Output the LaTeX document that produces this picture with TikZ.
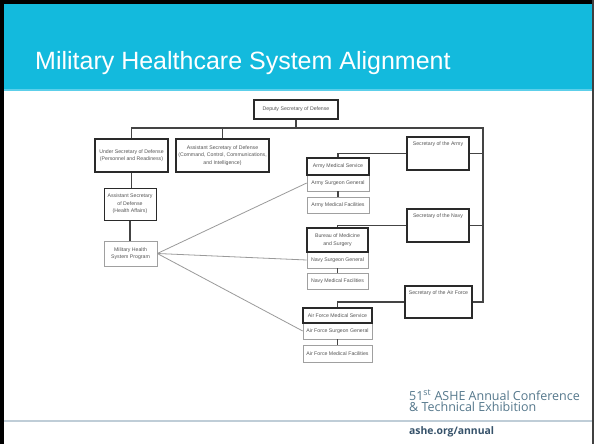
\documentclass[tikz,border=0pt]{standalone}
\usepackage{fontspec}
\setmainfont{Liberation Sans}
\newfontfamily\footfont{Open Sans}
\definecolor{hdr}{HTML}{13BADD}
\definecolor{hdrline}{HTML}{5CCFEA}
\definecolor{footc}{HTML}{55788C}
\definecolor{footd}{HTML}{36526A}
\definecolor{sepc}{HTML}{BFCDD7}
\definecolor{boxtxt}{HTML}{555555}
\definecolor{boldc}{HTML}{2A2A2A}
\definecolor{lightc}{HTML}{A0A0A0}
\definecolor{connc}{HTML}{444444}
\definecolor{fanc}{HTML}{9A9A9A}
\begin{document}
\begin{tikzpicture}[x=1pt,y=-1pt,
  txt/.style={inner sep=0pt, align=center, text=boxtxt, font=\fontsize{5.2}{7.6}\selectfont},
  boldbox/.style={txt, draw=boldc, line width=1.3pt},
  medbox/.style={txt, draw=boldc, line width=1pt},
  lightbox/.style={txt, draw=lightc, line width=0.6pt},
  conn/.style={draw=connc, line width=1.1pt},
  fan/.style={draw=fanc, line width=0.8pt}]
\useasboundingbox (0,0) rectangle (594,444);
\fill[white] (0,0) rectangle (594,444);
% header
\fill[hdr] (0,0) rectangle (594,89);
\fill[hdrline] (0,89) rectangle (594,91);
\fill[black] (0,0) rectangle (594,4);
\fill[black] (0,0) rectangle (4,444);
\fill[black!75] (592,0) rectangle (594,444);
\node[anchor=base west, inner sep=0pt, text=white, font=\fontsize{25}{30}\selectfont] (title) at (35,70) {Military Healthcare System Alignment};
% footer
\fill[sepc] (4,420) rectangle (592,422);
\node[anchor=north west, inner sep=0pt, align=left, text=footc, font=\footfont\fontsize{12.5}{11.2}\selectfont] (conf) at (409,390) {51\textsuperscript{st} ASHE Annual Conference\\\& Technical Exhibition};
\node[anchor=base west, inner sep=0pt, text=footd, font=\footfont\bfseries\fontsize{10.4}{12}\selectfont] (web) at (409,434) {ashe.org/annual};

% light boxes first (stacked ones share edges)
\node[lightbox, minimum width=62pt, minimum height=16pt] (asg) at (338,183) {Army Surgeon General};
\node[lightbox, minimum width=62pt, minimum height=16pt] (amf) at (338,205) {Army Medical Facilities};
\node[lightbox, minimum width=61pt, minimum height=16pt] (nsg) at (337.5,260) {Navy Surgeon General};
\node[lightbox, minimum width=61pt, minimum height=16pt] (nmf) at (337.5,281) {Navy Medical Facilities};
\node[lightbox, minimum width=69pt, minimum height=16pt] (afsg) at (337.5,331) {Air Force Surgeon General};
\node[lightbox, minimum width=69pt, minimum height=17pt] (afmf) at (337.5,353.5) {Air Force Medical Facilities};
\node[lightbox, minimum width=53pt, minimum height=25pt] (mhs) at (130.5,253.5) {Military Health\\System Program};

% bold boxes
\node[boldbox, minimum width=84pt, minimum height=19pt] (dep) at (296,109.5) {Deputy Secretary of Defense};
\node[boldbox, minimum width=73pt, minimum height=33pt] (usd) at (131.5,155.5) {Under Secretary of Defense\\(Personnel and Readiness)};
\node[boldbox, minimum width=93pt, minimum height=33pt] (c3i) at (222.5,155.5) {Assistant Secretary of Defense\\(Command, Control, Communications,\\and Intelligence)};
\node[medbox, minimum width=52pt, minimum height=32pt] (asd) at (130,204) {Assistant Secretary\\of Defense\\(Health Affairs)};
\node[boldbox, minimum width=62pt, minimum height=17pt] (ams) at (338,166.5) {Army Medical Service};
\node[boldbox, minimum width=61pt, minimum height=24pt] (bms) at (337.5,240) {Bureau of Medicine\\and Surgery};
\node[boldbox, minimum width=69pt, minimum height=15pt] (afms) at (337.5,315.5) {Air Force Medical Service};
\node[boldbox, minimum width=62pt, minimum height=33pt] (sarmy) at (438,153.5) {};
\node[boldbox, minimum width=62pt, minimum height=33pt] (snavy) at (438,225.5) {};
\node[boldbox, minimum width=67pt, minimum height=32pt] (saf) at (438.5,302) {};
\node[txt, anchor=north] (sarmyT) at ([yshift=-5pt]sarmy.north) {Secretary of the Army};
\node[txt, anchor=north] (snavyT) at ([yshift=-5pt]snavy.north) {Secretary of the Navy};
\node[txt, anchor=north] (safT) at ([yshift=-5pt]saf.north) {Secretary of the Air Force};

% bus
\coordinate (busR) at (483,128);
\draw[conn] (usd.north) |- (busR) |- (saf.east);
\draw[conn] (dep.south) -- (dep.south |- busR);
\draw[conn] (c3i.north) -- (c3i.north |- busR);
\draw[conn] (sarmy.east) -- (sarmy.east -| busR);
\draw[conn] (snavy.east) -- (snavy.east -| busR);
% service branches
\draw[conn] (sarmy.west) -| (ams.north);
\draw[conn] (snavy.west) -| (bms.north);
\draw[conn] (saf.west) -| (afms.north);
\draw[conn] (asg.south) -- (amf.north);
\draw[conn] (nsg.south) -- (nmf.north);
\draw[conn] (afsg.south) -- (afmf.north);
% health affairs chain
\draw[conn] (usd.south) -- (usd.south |- asd.north);
\draw[conn] (asd.south) -- (asd.south |- mhs.north);
% fan from MHS
\draw[fan] (mhs.east) -- (asg.west);
\draw[fan] (mhs.east) -- (nsg.west);
\draw[fan] (mhs.east) -- (afsg.west);
\end{tikzpicture}
\end{document}
